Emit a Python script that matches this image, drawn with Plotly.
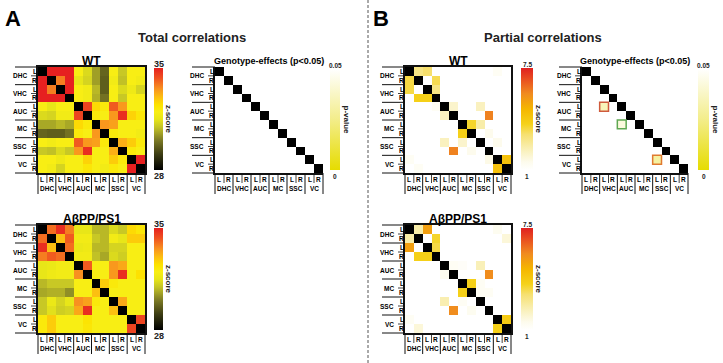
import plotly.graph_objects as go

W, H = 723, 363
FONT = "Liberation Sans, Arial, sans-serif"

regions = ["DHC", "VHC", "AUC", "MC", "SSC", "VC"]
sides = ["L", "R"]
cells = [f"{r} {s}" for r in regions for s in sides]

# Total correlations (z-score, 28..35); None = diagonal
total_wt = [
    [None, 35, 35, 35, 32.0, 31.3, 30.5, 29.7, 32.0, 31.0, 32.0, 32.0],
    [35, None, 33.8, 35, 31.5, 31.2, 30.5, 29.6, 31.8, 30.9, 32.0, 31.8],
    [35, 33.8, None, 35, 32.0, 31.8, 30.8, 29.6, 32.0, 31.3, 31.7, 31.2],
    [35, 35, 35, None, 32.0, 31.8, 30.7, 29.9, 32.0, 31.0, 32.0, 32.0],
    [32.0, 31.5, 32.0, 32.0, None, 34.5, 32.6, 32.2, 34.2, 33.5, 32.0, 32.0],
    [31.3, 31.2, 31.8, 31.8, 34.5, None, 32.2, 32.0, 33.5, 34.8, 32.7, 32.3],
    [30.6, 30.6, 30.8, 30.6, 32.6, 32.2, None, 33.5, 33.4, 32.0, 32.0, 32.0],
    [29.7, 29.6, 29.6, 29.9, 32.2, 32.0, 33.5, None, 32.2, 32.0, 32.0, 31.8],
    [32.0, 31.8, 32.0, 32.0, 34.2, 33.5, 33.4, 32.2, None, 33.2, 32.8, 32.2],
    [31.0, 30.9, 31.3, 31.0, 33.5, 34.8, 32.0, 32.0, 33.2, None, 32.2, 32.0],
    [32.0, 32.0, 31.7, 32.0, 32.0, 32.7, 32.0, 32.0, 32.8, 32.2, None, 35],
    [32.0, 31.8, 31.2, 32.0, 32.0, 32.3, 32.0, 31.8, 32.2, 32.0, 35, None],
]
total_app = [
    [None, 34.0, 34.8, 33.8, 31.5, 31.5, 30.8, 30.8, 31.3, 31.0, 32.6, 32.3],
    [34.0, None, 33.0, 34.2, 31.8, 31.8, 31.0, 30.8, 31.8, 31.5, 32.8, 32.8],
    [34.8, 33.0, None, 34.0, 31.6, 31.7, 30.8, 30.8, 31.2, 31.2, 32.0, 32.0],
    [33.8, 34.2, 34.0, None, 31.8, 31.8, 30.9, 30.6, 31.3, 31.1, 32.0, 32.0],
    [31.5, 31.6, 31.8, 31.8, None, 34.2, 32.0, 32.0, 33.5, 33.3, 32.0, 32.0],
    [31.5, 31.7, 31.8, 31.8, 33.6, None, 32.0, 32.0, 33.5, 34.8, 32.0, 32.5],
    [30.8, 31.0, 31.0, 31.0, 32.0, 32.0, None, 32.8, 32.2, 32.0, 32.0, 32.0],
    [30.6, 30.7, 30.7, 30.3, 32.0, 32.0, 33.0, None, 32.0, 32.0, 32.0, 32.0],
    [31.0, 31.6, 31.2, 31.5, 33.6, 33.4, 32.2, 32.0, None, 33.3, 32.0, 32.0],
    [31.0, 31.4, 31.1, 31.2, 33.3, 34.8, 32.0, 32.0, 33.0, None, 32.0, 32.0],
    [32.2, 32.8, 32.0, 32.0, 32.0, 32.4, 32.0, 32.0, 32.0, 32.0, None, 34.5],
    [32.2, 32.8, 32.0, 32.0, 32.0, 32.3, 32.0, 32.0, 32.0, 32.0, 34.5, None],
]

# Partial correlations (z-score, 1..7.5); 0 = not shown
partial_wt = [
    [None, 3.0, 3.3, 0, 0, 0, 0, 0, 0, 0, 1.3, 0],
    [3.6, None, 0, 3.5, 0, 0, 0, 0, 0, 0, 0, 0],
    [3.6, 0, None, 3.0, 0, 0, 0, 0, 0, 0, 0, 0],
    [0, 4.0, 4.0, None, 0, 0, 0, 0, 0, 0, 0, 0],
    [0, 0, 0, 1.3, None, 2.0, 0, 0, 2.2, 0, 0, 0],
    [0, 0, 0, 0, 2.2, None, 0, 0, 0, 6.0, 0, 0],
    [0, 0, 0, 0, 0, 0, None, 3.8, 2.5, 0, 0, 0],
    [0, 0, 0, 0, 0, 0, 4.0, None, 0, 1.5, 0, 0],
    [0, 0, 0, 0, 2.2, 0, 2.0, 0, None, 0, 1.5, 0],
    [0, 0, 0, 0, 0, 6.0, 0, 1.5, 0, None, 0, 0],
    [1.3, 0, 0, 0, 0, 0, 0, 0, 0, 1.6, None, 4.5],
    [0, 1.3, 0, 0, 0, 0, 0, 0, 0, 0, 4.5, None],
]
partial_app = [
    [None, 2.5, 5.4, 0, 0, 0, 0, 0, 0, 0, 1.4, 0],
    [2.5, None, 0, 3.8, 0, 0, 0, 0, 0, 0, 0, 1.8],
    [5.4, 0, None, 3.6, 0, 0, 0, 0, 0, 0, 0, 0],
    [0, 4.0, 4.0, None, 0, 0, 0, 0, 0, 0, 0, 0],
    [0, 0, 0, 0, None, 1.3, 1.2, 0, 2.3, 0, 0, 0],
    [0, 0, 0, 0, 1.4, None, 0, 0, 0, 5.8, 0, 0],
    [0, 0, 0, 0, 0, 0, None, 4.0, 1.3, 0, 0, 0],
    [0, 0, 0, 0, 0, 0, 4.0, None, 1.3, 1.3, 0, 0],
    [0, 0, 0, 0, 2.4, 0, 1.3, 0, None, 0, 0, 0],
    [0, 0, 0, 0, 0, 5.8, 0, 1.4, 0, None, 0, 0],
    [1.3, 0, 0, 0, 0, 0, 0, 0, 0, 0, None, 4.2],
    [0, 1.8, 0, 0, 0, 0, 0, 0, 0, 0, 4.0, None],
]

# Genotype effects (p < 0.05): (row cell, column cell, p-value)
geno_total_sig = []
geno_partial_sig = [("AUC L", "VHC L", 0.035), ("MC L", "AUC L", 0.043), ("VC L", "SSC L", 0.030)]
highlight_colors = ["#cf5a3c", "#5fa852", "#e07a30"]

N = len(cells)


def pmatrix(sig):
    m = [[None] * N for _ in range(N)]
    for r, c, p in sig:
        m[cells.index(r)][cells.index(c)] = p
    return m


diag = [[0 if i == j else None for j in range(N)] for i in range(N)]

cs_total = [[0, '#000000'], [0.15, '#3a3a12'], [0.3, '#807e26'], [0.42, '#c4c426'],
            [0.5, '#e8e618'], [0.57, '#f8ee14'], [0.64, '#fde200'], [0.72, '#fcbc12'],
            [0.8, '#f89020'], [0.9, '#ef5220'], [1, '#e62020']]
cs_partial = [[0, '#ffffff'], [0.08, '#fdfbec'], [0.2, '#f9f0b8'], [0.35, '#f6e070'],
              [0.45, '#f5d21a'], [0.6, '#f5b600'], [0.75, '#f08a20'], [0.9, '#e84a20'], [1, '#e02020']]
cs_p = [[0, '#e6dc00'], [0.5, '#f3ed8a'], [1, '#ffffff']]


def P(x):
    return x / W


def Q(y):
    return 1 - y / H


def note(x, y, text, size, **kw):
    d = dict(x=P(x), y=Q(y), xref="paper", yref="paper", text=text, showarrow=False,
             font=dict(size=size, color=kw.pop("color", "#000")), xanchor=kw.pop("xanchor", "center"),
             yanchor="middle")
    d.update(kw)
    return d


def hline(x0, x1, y, w=1):
    return dict(type="line", xref="paper", yref="paper", x0=P(x0), x1=P(x1), y0=Q(y), y1=Q(y),
                line=dict(color="#111", width=w))


def vline(x, y0, y1, w=1):
    return dict(type="line", xref="paper", yref="paper", x0=P(x), x1=P(x), y0=Q(y0), y1=Q(y1),
                line=dict(color="#111", width=w))


fig = go.Figure()
ann = []
shapes = []

panels = [
    ("tw", total_wt, cs_total, 28, 35, (38, 145, 67, 173), (154, 163, 68, 170), "WT", 12, True, ("35", "28"), "z-score"),
    ("gt", pmatrix(geno_total_sig), cs_p, 0, 0.05, (215, 323, 67, 173), (330, 340, 69, 170), "Genotype-effects (p<0.05)", 9, False, ("0.05", "0"), "p-value"),
    ("ta", total_app, cs_total, 28, 35, (38, 145, 225, 333), (154, 163, 228, 330), "AβPP/PS1", 12, True, ("35", "28"), "z-score"),
    ("pw", partial_wt, cs_partial, 1, 7.5, (405, 511, 67, 173), (521, 533, 68, 170), "WT", 12, True, ("7.5", "1"), "z-score"),
    ("gp", pmatrix(geno_partial_sig), cs_p, 0, 0.05, (582, 688, 67, 173), (698, 709, 69, 170), "Genotype-effects (p<0.05)", 9, False, ("0.05", "0"), "p-value"),
    ("pa", partial_app, cs_partial, 1, 7.5, (405, 511, 225, 333), (521, 533, 228, 330), "AβPP/PS1", 12, True, ("7.5", "1"), "z-score"),
]

layout_axes = {}
for k, (key, z, cs, zmin, zmax, box, cb, title, tsize, frame, cbl, cbt) in enumerate(panels):
    x0, x1, y0, y1 = box
    n = k + 1
    xa = "x" if n == 1 else f"x{n}"
    ya = "y" if n == 1 else f"y{n}"
    cell = (x1 - x0) / N
    cellh = (y1 - y0) / N
    cbar = dict(x=P(cb[0]), xanchor="left", y=Q(cb[2]), yanchor="top",
                len=cb[3] - cb[2], lenmode="pixels", thickness=cb[1] - cb[0],
                thicknessmode="pixels", xpad=0, ypad=0, outlinewidth=0,
                showticklabels=False, ticks="")
    fig.add_trace(go.Heatmap(
        z=z, x=list(range(N)), y=list(range(N)), colorscale=cs, zmin=zmin, zmax=zmax,
        xaxis=xa, yaxis=ya, hoverongaps=False, showscale=False))
    # colour bar (attached to an empty marker trace so it shows even without coloured cells)
    fig.add_trace(go.Scatter(
        x=[None], y=[None], mode="markers", xaxis=xa, yaxis=ya, hoverinfo="skip",
        marker=dict(color=[zmin], colorscale=cs, cmin=zmin, cmax=zmax, showscale=True, colorbar=cbar)))
    fig.add_trace(go.Heatmap(
        z=diag, x=list(range(N)), y=list(range(N)), colorscale=[[0, "#000"], [1, "#000"]],
        showscale=False, xaxis=xa, yaxis=ya, hoverinfo="skip"))
    axname_x = "xaxis" if n == 1 else f"xaxis{n}"
    axname_y = "yaxis" if n == 1 else f"yaxis{n}"
    common = dict(showticklabels=False, ticks="", showgrid=False, zeroline=False,
                  showline=True, linecolor="#111", linewidth=1.5, mirror=frame)
    layout_axes[axname_x] = dict(domain=[P(x0), P(x1)], anchor=ya, range=[-0.5, N - 0.5], **common)
    layout_axes[axname_y] = dict(domain=[Q(y1), Q(y0)], anchor=xa, range=[N - 0.5, -0.5], **common)

    ann.append(note((x0 + x1) / 2, y0 - 6, f"<b>{title}</b>", tsize))
    cbx = (cb[0] + cb[1]) / 2
    small = cbt == "p-value" or cbl[0] == "7.5"
    ann.append(note(cbx, cb[2] - 4, f"<b>{cbl[0]}</b>", 6.5 if small else 9, color="#222"))
    ann.append(note(cbx, cb[3] + 6, f"<b>{cbl[1]}</b>", 6.5 if small else 9, color="#222"))
    ann.append(note(cb[1] + 6, (cb[2] + cb[3]) / 2, f"<b>{cbt}</b>", 8, color="#222", textangle=90))

    for g, reg in enumerate(regions):
        gy = y0 + 2 * g * cellh
        shapes.append(hline(x0 - 23, x0, gy))
        shapes.append(hline(x0 - 7, x0, gy + cellh, 0.8))
        ann.append(note(x0 - 9, gy + cellh, f"<b>{reg}</b>", 6.5, xanchor="right"))
        for s, sd in enumerate(sides):
            ann.append(note(x0 - 3.5, gy + (s + 0.5) * cellh, f"<b>{sd}</b>", 6.5))
        gx = x0 + 2 * g * cell
        shapes.append(vline(gx, y1, y1 + 21))
        shapes.append(vline(gx + cell, y1, y1 + 10, 0.8))
        ann.append(note(gx + cell, y1 + 15.5, f"<b>{reg}</b>", 6.5))
        for s, sd in enumerate(sides):
            ann.append(note(gx + (s + 0.5) * cell, y1 + 6, f"<b>{sd}</b>", 6.5))
    shapes.append(hline(x0 - 23, x0, y1))
    shapes.append(vline(x1, y1, y1 + 21))

    if key == "gp":
        for (r, c, p), col in zip(geno_partial_sig, highlight_colors):
            ri, ci = cells.index(r), cells.index(c)
            shapes.append(dict(type="rect", xref="paper", yref="paper",
                               x0=P(x0 + ci * cell), x1=P(x0 + (ci + 1) * cell),
                               y0=Q(y0 + ri * cellh), y1=Q(y0 + (ri + 1) * cellh),
                               line=dict(color=col, width=1.5)))

ann += [
    note(13, 18, "<b>A</b>", 22),
    note(381, 18, "<b>B</b>", 22),
    note(192, 38, "<b>Total correlations</b>", 13, color="#222"),
    note(543, 38, "<b>Partial correlations</b>", 13, color="#222"),
]
shapes.append(dict(type="line", xref="paper", yref="paper", x0=P(368), x1=P(368), y0=0, y1=1,
                   line=dict(color="#555", width=1, dash="3px,2px")))

fig.update_layout(
    width=W, height=H, autosize=False, margin=dict(l=0, r=0, t=0, b=0),
    paper_bgcolor="white", plot_bgcolor="white",
    font=dict(family=FONT, color="#111"),
    annotations=ann, shapes=shapes, showlegend=False,
    **layout_axes,
)
fig.write_html("out.html", config={"displayModeBar": False},
               post_script="document.body.style.margin='0';document.body.style.padding='0';")
